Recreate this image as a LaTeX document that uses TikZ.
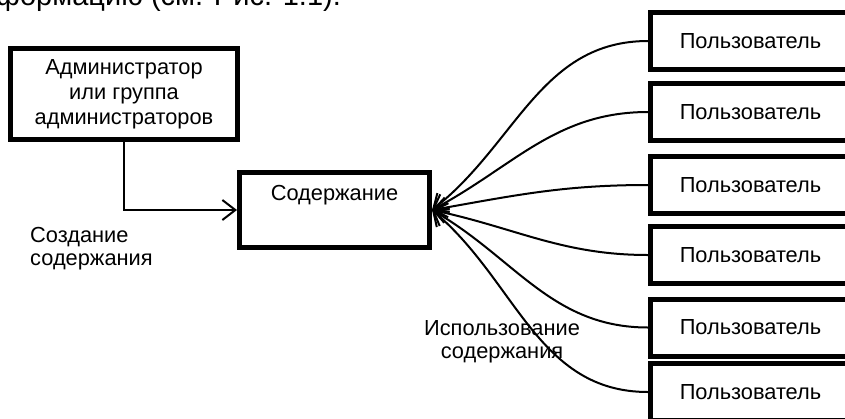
\documentclass[tikz,border=0pt]{standalone}
\usepackage{fontspec}
\setmainfont{Liberation Sans}
\usetikzlibrary{arrows.meta}

\tikzset{
  heavybox/.style={draw=black, line width=5pt, fill=white, inner sep=0pt,
    font=\fontsize{21.8}{25}\selectfont, align=center},
  userbox/.style={heavybox, minimum width=200pt, minimum height=57pt},
  plain/.style={font=\fontsize{21.8}{23}\selectfont, inner sep=0pt},
  link/.style={line width=2pt, -{Straight Barb[length=13pt,width=20pt]}},
}

\begin{document}
\begin{tikzpicture}[x=1pt, y=-1pt]
  \useasboundingbox (0,0) rectangle (845,418);
  \clip (0,0) rectangle (845,418);

  % running text of the page above the figure
  \node[font=\fontsize{29}{34}\selectfont, anchor=base east, inner sep=0pt]
    (pagetext) at (341,5.5) {формацию (см. Рис. 1.1).};

  % administrator and content boxes
  \node[heavybox, minimum width=227pt, minimum height=91pt] (admin) at (124,94)
    {Администратор\\или группа\\администраторов};
  \node[heavybox, minimum width=190pt, minimum height=75pt] (content) at (334.5,210) {};
  \node[plain] (contentlabel) at (334.5,195) {Содержание};

  % user boxes, running off the right edge
  \node[userbox] (u1) at (750.5,41)    {Пользователь};
  \node[userbox] (u2) at (750.5,112)   {Пользователь};
  \node[userbox] (u3) at (750.5,185)   {Пользователь};
  \node[userbox] (u4) at (750.5,255)   {Пользователь};
  \node[userbox] (u5) at (750.5,327.5) {Пользователь};
  \node[userbox] (u6) at (750.5,392)   {Пользователь};

  % content creation
  \draw[link] (admin.south) |- (content.west);
  \node[plain, anchor=west, align=left] (createlabel) at (30,248.5)
    {Создание\\содержания};

  % content usage
  \draw[link] (u1.west) to[out=180, in=38]  (content.east);
  \draw[link] (u2.west) to[out=180, in=28]  (content.east);
  \draw[link] (u3.west) to[out=180, in=10]  (content.east);
  \draw[link] (u4.west) to[out=180, in=-12] (content.east);
  \draw[link] (u5.west) to[out=180, in=-30] (content.east);
  \draw[link] (u6.west) to[out=180, in=-40] (content.east);
  \node[plain, align=center] (uselabel) at (502,341.5)
    {Использование\\содержания};
\end{tikzpicture}
\end{document}
